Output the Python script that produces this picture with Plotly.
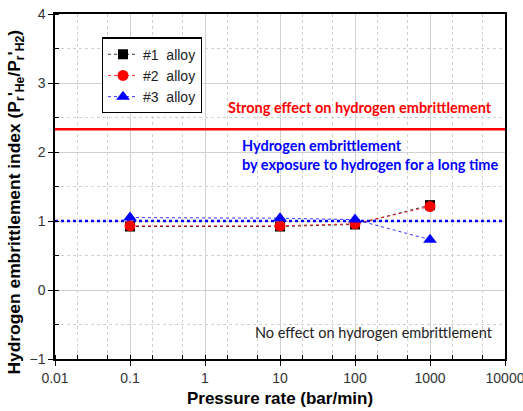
import plotly.graph_objects as go

pressure_rate = [0.1, 10, 100, 1000]
alloy1 = [0.92, 0.92, 0.95, 1.23]
alloy2 = [0.93, 0.93, 0.96, 1.21]
alloy3 = [1.05, 1.04, 1.02, 0.73]
strong_level = 2.33
no_effect_level = 1.0
x_ticks = [0.01, 0.1, 1, 10, 100, 1000, 10000]
x_labels = ["0.01", "0.1", "1", "10", "100", "1000", "10000"]
y_ticks = [-1, 0, 1, 2, 3, 4]

fig = go.Figure()

fig.add_trace(go.Scatter(x=[0.01, 10000], y=[strong_level] * 2, mode="lines",
                         line=dict(color="#ff0000", width=2.5), showlegend=False, hoverinfo="skip"))
fig.add_trace(go.Scatter(x=[0.01, 10000], y=[no_effect_level] * 2, mode="lines",
                         line=dict(color="#0000ff", width=2.5, dash="dot"), showlegend=False, hoverinfo="skip"))

series = [
    ("#1\u00a0\u00a0alloy", alloy1, "black", "square", 10),
    ("#2\u00a0\u00a0alloy", alloy2, "#ff0000", "circle", 11),
    ("#3\u00a0\u00a0alloy", alloy3, "#0000ff", "triangle-up", 12),
]
for name, ys, col, sym, sz in series:
    fig.add_trace(go.Scatter(x=pressure_rate, y=ys, name=name, mode="lines+markers",
                             line=dict(color=col, width=0.8, dash="dot"),
                             marker=dict(color=col, symbol=sym, size=sz, line=dict(width=0))))

base_font = "Liberation Sans"
axis_common = dict(showline=True, linecolor="black", linewidth=1.5, mirror=True,
                   ticks="outside", ticklen=5, tickcolor="black", tickwidth=1.2,
                   showgrid=True, gridcolor="#d0d0d0", gridwidth=1,
                   tickfont=dict(family=base_font, size=14, color="#333333"),
                   zeroline=False, automargin=False, ticklabeloverflow="allow")

fig.update_xaxes(type="log", range=[-2, 4], tickvals=x_ticks, ticktext=x_labels,
                 title=dict(text="<b>Pressure rate (bar/min)</b>",
                            font=dict(family=base_font, size=17, color="black"),
                            standoff=8),
                 minor=dict(ticks="inside", ticklen=4, tickcolor="black", tickwidth=1,
                            showgrid=True, gridcolor="#d0d0d0", griddash="dot", gridwidth=1),
                 **axis_common)
fig.update_yaxes(range=[-1, 4], tickvals=y_ticks,
                 minor=dict(dtick=0.5, ticks="inside", ticklen=4, tickcolor="black", tickwidth=1,
                            showgrid=True, gridcolor="#d0d0d0", griddash="dot", gridwidth=1),
                 **axis_common)

fig.add_annotation(xref="paper", yref="paper", x=-0.087, y=0.456, showarrow=False, textangle=-90,
                   text="<b>Hydrogen embrittlement index (P<sub>r</sub>'<sub>He</sub>/P<sub>r</sub>'<sub>H2</sub>)</b>",
                   font=dict(family=base_font, size=17.4, color="black"),
                   xanchor="center", yanchor="middle")

ann_font = "Lato"
fig.add_annotation(xref="paper", yref="y", x=0.38, y=2.65, showarrow=False,
                   text="<b>Strong effect on hydrogen embrittlement</b>",
                   font=dict(family=ann_font, size=14.5, color="#ff0000"), xanchor="left")
fig.add_annotation(xref="paper", yref="y", x=0.41, y=1.95, showarrow=False, align="left",
                   text="<b>Hydrogen embrittlement<br>by exposure to hydrogen for a long time</b>",
                   font=dict(family=ann_font, size=14.5, color="#0000ff"), xanchor="left")
fig.add_annotation(xref="paper", yref="y", x=0.44, y=-0.62, showarrow=False,
                   text="No effect on hydrogen embrittlement",
                   font=dict(family=ann_font, size=14.5, color="#222222"), xanchor="left")

fig.update_layout(
    width=523, height=411,
    margin=dict(l=55, r=18, t=13.5, b=52),
    plot_bgcolor="white", paper_bgcolor="white",
    legend=dict(x=0.104, y=0.932, xanchor="left", yanchor="top",
                bordercolor="black", borderwidth=1.2, bgcolor="white",
                font=dict(family=base_font, size=14, color="#222222"),
                tracegroupgap=0, itemwidth=30),
    showlegend=True,
)

# remove the page's default body margin so the figure fills the window exactly
fig.write_html("out.html", config={"displayModeBar": False},
               post_script="document.body.style.margin='0';document.body.style.overflow='hidden';")
